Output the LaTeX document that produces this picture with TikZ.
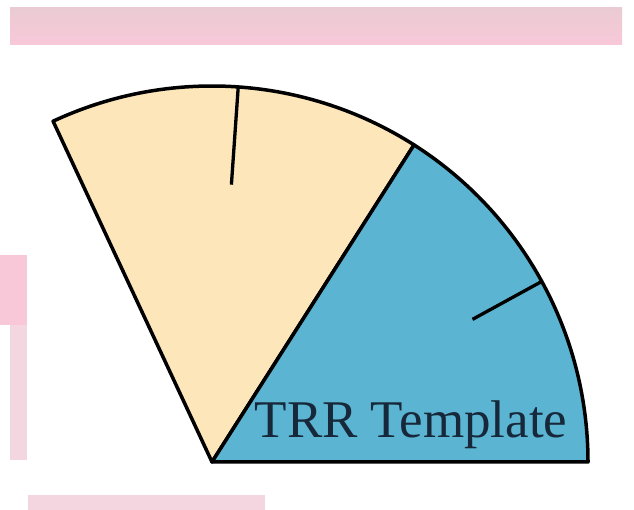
\documentclass[tikz,border=0pt]{standalone}
\usepackage{fontspec}
\setmainfont{Liberation Serif}
\definecolor{sandy}{HTML}{FCE6BA}
\definecolor{skyb}{HTML}{5BB4D2}
\definecolor{inkc}{HTML}{16283A}
\definecolor{pinkbar}{HTML}{F8C8D8}
\definecolor{pinktop}{HTML}{EACBD3}
\definecolor{pinksoft}{HTML}{F3D6E0}
\tikzset{
  wedge/.style={draw=black, line width=3.5pt, line join=round},
  tickline/.style={draw=black, line width=3.3pt},
  blur/.style={draw=none},
}
\begin{document}
\begin{tikzpicture}[x=1pt,y=1pt]
\useasboundingbox (0,0) rectangle (634,510);
\fill[white] (0,0) rectangle (634,510);
% pink background artefacts
\shade[blur, top color=pinktop, bottom color=pinkbar] (10,465) rectangle (622,502);
\fill[pinkbar] (0,185) rectangle (27,255);
\fill[pinksoft] (10,50) rectangle (27,185);
\fill[pinksoft] (28,0) rectangle (265,15);
% sectors
\coordinate (C) at (212,48);
\path[wedge, fill=sandy] (C) -- ++(57.5:376) arc[start angle=57.5, end angle=115, radius=376] -- cycle;
\path[wedge, fill=skyb] (C) -- ++(0:376) arc[start angle=0, end angle=57.5, radius=376] -- cycle;
% ticks
\draw[tickline] (C) ++(86:375) -- ++(266:97);
\draw[tickline] (C) ++(28.7:375) -- ++(208.7:78);
% label
\node[anchor=base, text=inkc, font=\fontsize{53}{58}\selectfont, inner sep=0pt] (lbl) at (411,72) {TRR Template};
\end{tikzpicture}
\end{document}
